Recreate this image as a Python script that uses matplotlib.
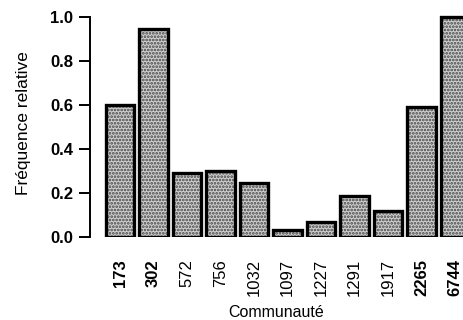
import matplotlib
matplotlib.use('Agg')
import matplotlib.pyplot as plt

plt.rcParams['font.family'] = ['Liberation Sans', 'DejaVu Sans']
plt.rcParams['hatch.linewidth'] = 1.3

communautes = ['173', '302', '572', '756', '1032', '1097', '1227', '1291', '1917', '2265', '6744']
frequences = [0.60, 0.945, 0.29, 0.30, 0.245, 0.03, 0.068, 0.186, 0.118, 0.59, 1.0]
en_gras = ['173', '302', '2265', '6744']

fig = plt.figure(figsize=(4.63, 3.2), dpi=100)
ax = fig.add_axes([90 / 463, (320 - 237) / 320, 1 - 90 / 463, 227 / 320])

x = range(len(communautes))
# texture pointillée
ax.bar(x, frequences, width=0.86, color='#cfcfcf', hatch='.....',
       edgecolor='#444444', linewidth=0)
# contour noir épais
ax.bar(x, frequences, width=0.86, fill=False, edgecolor='black', linewidth=2.4)

ax.set_xlim(-0.896, 10.24)
ax.set_ylim(0, 227 / 220)

for s in ['top', 'right', 'bottom']:
    ax.spines[s].set_visible(False)
ax.spines['left'].set_bounds(0, 1)
ax.spines['left'].set_linewidth(1.4)

ax.set_yticks([0, 0.2, 0.4, 0.6, 0.8, 1.0])
ax.set_yticklabels(['0.0', '0.2', '0.4', '0.6', '0.8', '1.0'], fontsize=12, fontweight='bold')
ax.tick_params(axis='y', length=8, width=1.4, pad=4)

ax.set_xticks(list(x))
ax.set_xticklabels(communautes, rotation=90, fontsize=12, va='top')
for lab in ax.get_xticklabels():
    if lab.get_text() in en_gras:
        lab.set_fontweight('bold')
ax.tick_params(axis='x', length=0, pad=16)

ax.set_ylabel('Fréquence relative', fontsize=12.5, labelpad=14)
ax.set_xlabel('Communauté', fontsize=11.5, labelpad=6)

fig.savefig('out.png', dpi=100)
